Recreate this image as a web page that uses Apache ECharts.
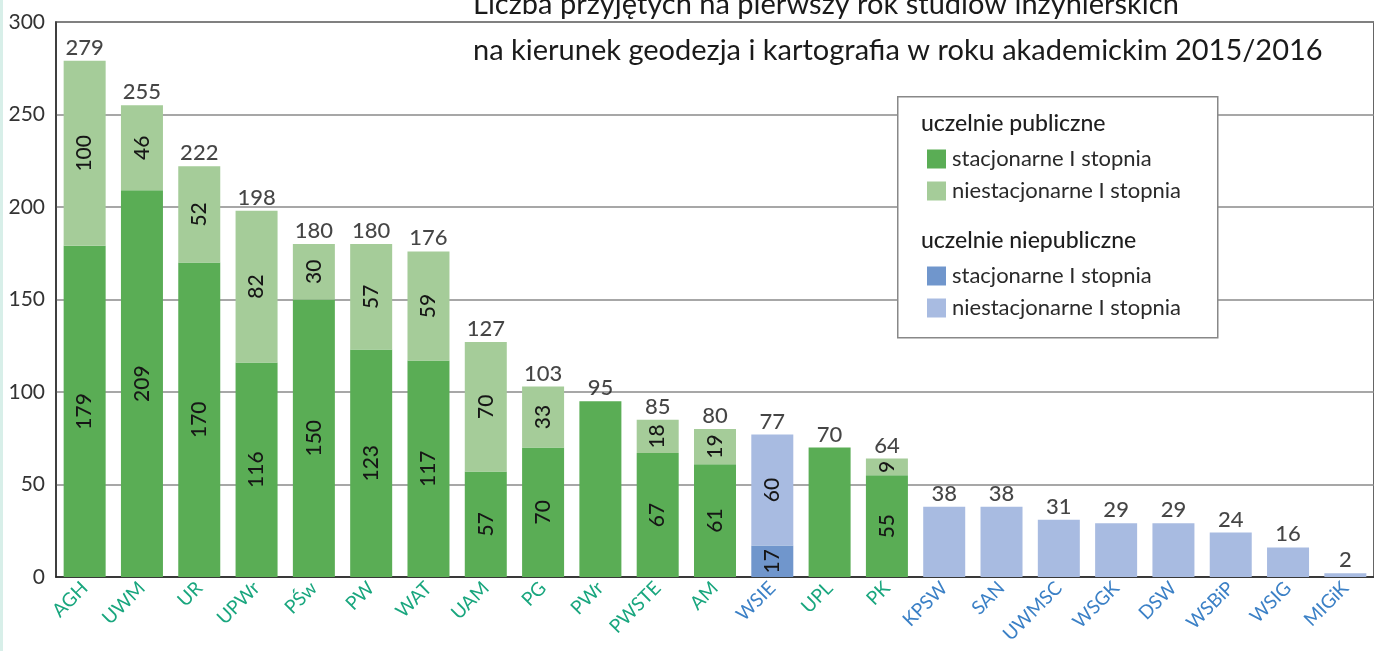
<!DOCTYPE html>
<html>
<head>
<meta charset="utf-8">
<script src="https://cdn.jsdelivr.net/npm/echarts@6/dist/echarts.min.js"></script>
<style>
  html, body { margin: 0; padding: 0; background: #fff; }
  #main { width: 1374px; height: 651px; }
</style>
</head>
<body>
<div id="main"></div>
<script>
// uczelnie (kolejnosc jak na wykresie)
var categories = ['AGH','UWM','UR','UPWr','PŚw','PW','WAT','UAM','PG','PWr','PWSTE','AM','WSIE','UPL','PK','KPSW','SAN','UWMSC','WSGK','DSW','WSBiP','WSIG','MIGiK'];
// true = uczelnia publiczna
var isPublic = [1,1,1,1,1,1,1,1,1,1,1,1,0,1,1,0,0,0,0,0,0,0,0];
// uczelnie publiczne
var pubStac  = [179,209,170,116,150,123,117,57,70,95,67,61,0,70,55,0,0,0,0,0,0,0,0];
var pubNiest = [100,46,52,82,30,57,59,70,33,0,18,19,0,0,9,0,0,0,0,0,0,0,0];
// uczelnie niepubliczne
var privStac  = [0,0,0,0,0,0,0,0,0,0,0,0,17,0,0,0,0,0,0,0,0,0,0];
var privNiest = [0,0,0,0,0,0,0,0,0,0,0,0,60,0,0,38,38,31,29,29,24,16,2];
var yTicks = [0, 50, 100, 150, 200, 250, 300];

var FONT = 'Lato';
var colors = { pubStac:'#5aad55', pubNiest:'#a5cc99', privStac:'#7096cc', privNiest:'#a8bbe1' };
var names = {
  pubStac:'stacjonarne I stopnia', pubNiest:'niestacjonarne I stopnia',
  privStac:'stacjonarne I stopnia ', privNiest:'niestacjonarne I stopnia '
};

var totals = categories.map(function(c, i){
  return pubStac[i] + pubNiest[i] + privStac[i] + privNiest[i];
});
// ile segmentow ma slupek - etykiety wewnatrz tylko gdy sa dwa
var segCount = categories.map(function(c, i){
  return [pubStac[i], pubNiest[i], privStac[i], privNiest[i]].filter(function(v){ return v > 0; }).length;
});

function barSeries(key, arr){
  return {
    name: names[key],
    type: 'bar',
    stack: 'all',
    barWidth: 42,
    itemStyle: { color: colors[key] },
    data: arr.map(function(v, i){
      return {
        value: v,
        label: { show: v > 0 && segCount[i] > 1 }
      };
    }),
    label: {
      position: 'inside',
      rotate: 90,
      fontFamily: FONT,
      fontSize: 21,
      fontWeight: 500,
      color: '#161616'
    }
  };
}

var myChart = echarts.init(document.getElementById('main'));

var legendText = { fontFamily: FONT, fontSize: 22, color: '#2a2a2a', padding: [0,0,0,1] };

var option = {
  animation: false,
  backgroundColor: '#fff',
  title: {
    text: 'Liczba przyjętych na pierwszy rok studiów inżynierskich\nna kierunek geodezja i kartografia w roku akademickim 2015/2016',
    left: 468,
    top: -23,
    textStyle: { fontFamily: FONT, fontSize: 29, fontWeight: 'normal', color: '#1a1a1a', lineHeight: 46 }
  },
  grid: {
    left: 56, top: 22, bottom: 74, width: 1323,
    show: true, borderColor: '#333', borderWidth: 1.5, backgroundColor: 'transparent'
  },
  legend: [
    {
      data: [names.pubStac, names.pubNiest],
      orient: 'vertical', left: 922, top: 143, z: 10,
      icon: 'rect', itemWidth: 19, itemHeight: 19, itemGap: 10,
      selectedMode: false,
      textStyle: legendText
    },
    {
      data: [names.privStac, names.privNiest],
      orient: 'vertical', left: 922, top: 260, z: 10,
      icon: 'rect', itemWidth: 19, itemHeight: 19, itemGap: 10,
      selectedMode: false,
      textStyle: legendText
    }
  ],
  graphic: [
    { type: 'rect', left: 0, top: 0, z: 1, shape: { width: 3, height: 651 }, style: { fill: '#d8efe9' } },
    { type: 'rect', left: 897, top: 96, z: 5, shape: { width: 320, height: 241 },
      style: { fill: '#fff', stroke: '#888', lineWidth: 1.5 } },
    { type: 'text', left: 921, top: 112, z: 6,
      style: { text: 'uczelnie publiczne', fontFamily: FONT, fontSize: 23, fontWeight: 500, fill: '#1e1e1e' } },
    { type: 'text', left: 921, top: 229, z: 6,
      style: { text: 'uczelnie niepubliczne', fontFamily: FONT, fontSize: 23, fontWeight: 500, fill: '#1e1e1e' } }
  ],
  xAxis: {
    type: 'category',
    data: categories.map(function(c, i){
      return { value: c, textStyle: { color: isPublic[i] ? '#19a67e' : '#3b80c6' } };
    }),
    axisLine: { lineStyle: { color: '#222', width: 1.5 } },
    axisTick: { inside: true, length: 5, lineStyle: { color: '#333' } },
    axisLabel: { rotate: 45, fontFamily: FONT, fontSize: 19, margin: 8, interval: 0 }
  },
  yAxis: {
    type: 'value',
    min: yTicks[0], max: yTicks[yTicks.length - 1], interval: 50,
    axisLine: { show: true, lineStyle: { color: '#333', width: 1.5 } },
    axisTick: { show: false },
    axisLabel: { fontFamily: FONT, fontSize: 21, color: '#333', margin: 11 },
    splitLine: { lineStyle: { color: '#8a8a8a', width: 1.5 } }
  },
  series: [
    barSeries('pubStac', pubStac),
    barSeries('pubNiest', pubNiest),
    barSeries('privStac', privStac),
    barSeries('privNiest', privNiest),
    {
      name: 'suma',
      type: 'scatter',
      symbolSize: 0,
      data: totals,
      z: 5,
      label: {
        show: true, position: 'top', distance: 2,
        fontFamily: FONT, fontSize: 22, fontWeight: 500, color: '#161616',
        formatter: function(p){ return p.value; }
      }
    }
  ]
};

myChart.setOption(option);
</script>
</body>
</html>
